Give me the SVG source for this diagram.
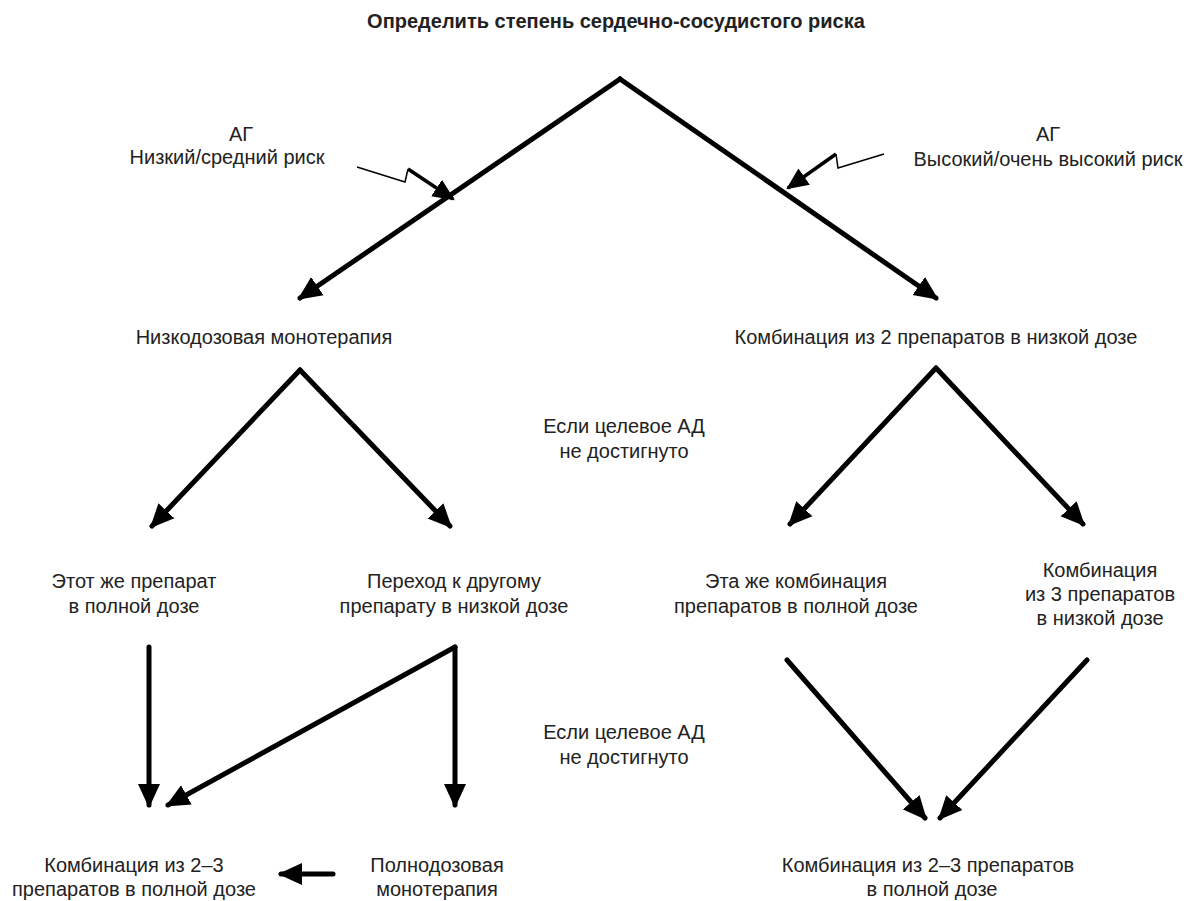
<svg xmlns="http://www.w3.org/2000/svg" width="1194" height="901" viewBox="0 0 1194 901">
<style>
text{font-family:"Liberation Sans",Arial,sans-serif;font-size:20px;fill:#222;text-anchor:middle}
.t{font-weight:bold;font-size:20px}
.c{stroke:#000;stroke-width:5;fill:none;stroke-linecap:round;stroke-linejoin:miter}
.z{stroke:#000;stroke-width:1.5;fill:none}
.zb{stroke:#000;stroke-width:3.5;fill:none}
</style>
<defs>
<marker id="ah" markerUnits="userSpaceOnUse" markerWidth="26" markerHeight="24" refX="21" refY="11" orient="auto" viewBox="0 0 26 22">
<path d="M0,0 L24,11 L0,22 Z" fill="#000"/>
</marker>
<marker id="ahs" markerUnits="userSpaceOnUse" markerWidth="22" markerHeight="20" refX="18" refY="9" orient="auto" viewBox="0 0 20 18">
<path d="M0,0 L20,9 L0,18 Z" fill="#000"/>
</marker>
</defs>
<rect width="1194" height="901" fill="#fff"/>
<g id="connectors">
<path class="c" d="M620,79 L936,298" marker-end="url(#ah)"/>
<path class="c" d="M620,79 L300,298" marker-end="url(#ah)"/>
<path class="c" d="M300,370 L152,526" marker-end="url(#ah)"/>
<path class="c" d="M300,370 L450,526" marker-end="url(#ah)"/>
<path class="c" d="M936,368 L790,524" marker-end="url(#ah)"/>
<path class="c" d="M936,368 L1083,524" marker-end="url(#ah)"/>
<path class="c" d="M149,647 L149,805" marker-end="url(#ah)"/>
<path class="c" d="M455,647 L455,805" marker-end="url(#ah)"/>
<path class="c" d="M455,647 L168,805" marker-end="url(#ah)"/>
<path class="c" d="M787,660 L925,818" marker-end="url(#ah)"/>
<path class="c" d="M1087,660 L940,818" marker-end="url(#ah)"/>
<path class="c" d="M333,874 L281,874" marker-end="url(#ah)"/>
<path class="z" d="M357,167 L405,182 L408,169"/>
<path class="zb" d="M408,169 L453,199" marker-end="url(#ahs)"/>
<path class="z" d="M884,154 L838,168 L836,154"/>
<path class="zb" d="M836,154 L788,188" marker-end="url(#ahs)"/>
</g>
<g id="title"><text class="t" x="616" y="28">Определить степень сердечно-сосудистого риска</text></g>
<g id="ag-low"><text x="241" y="141">АГ</text><text x="227" y="164">Низкий/средний риск</text></g>
<g id="ag-high"><text x="1048" y="141">АГ</text><text x="1048" y="166">Высокий/очень высокий риск</text></g>
<g id="mono-low"><text x="264" y="344">Низкодозовая монотерапия</text></g>
<g id="combo2-low"><text x="936" y="344">Комбинация из 2 препаратов в низкой дозе</text></g>
<g id="note1"><text x="624" y="433">Если целевое АД</text><text x="624" y="458">не достигнуто</text></g>
<g id="same-full"><text x="134" y="588">Этот же препарат</text><text x="134" y="613">в полной дозе</text></g>
<g id="switch-low"><text x="454" y="588">Переход к другому</text><text x="454" y="613">препарату в низкой дозе</text></g>
<g id="samecombo-full"><text x="796" y="588">Эта же комбинация</text><text x="796" y="613">препаратов в полной дозе</text></g>
<g id="combo3-low"><text x="1100" y="577">Комбинация</text><text x="1100" y="601">из 3 препаратов</text><text x="1100" y="625">в низкой дозе</text></g>
<g id="note2"><text x="624" y="739">Если целевое АД</text><text x="624" y="764">не достигнуто</text></g>
<g id="combo23-left"><text x="134" y="872">Комбинация из 2–3</text><text x="134" y="896">препаратов в полной дозе</text></g>
<g id="mono-full"><text x="437" y="872">Полнодозовая</text><text x="437" y="896">монотерапия</text></g>
<g id="combo23-right"><text x="928" y="872">Комбинация из 2–3 препаратов</text><text x="932" y="896">в полной дозе</text></g>
</svg>
